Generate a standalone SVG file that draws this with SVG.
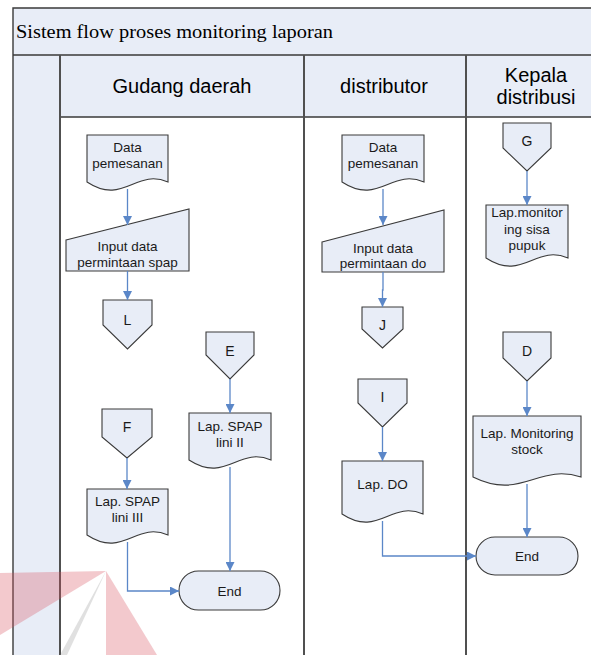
<svg xmlns="http://www.w3.org/2000/svg" width="591" height="655" viewBox="0 0 591 655">
  <style>
    .lane { fill: #e8edf7; }
    .frame { stroke: #3a3a3a; stroke-width: 1.4; fill: none; }
    .sep { stroke: #505050; stroke-width: 2; fill: none; }
    .shape { fill: #e8edf7; stroke: #3a3a3a; stroke-width: 1.1; }
    .title { font-family: "Liberation Serif", "Times New Roman", serif; font-size: 19px; fill: #000; }
    .head { font-family: "Liberation Sans", Arial, sans-serif; font-size: 20px; fill: #000; text-anchor: middle; }
    .lbl { font-family: "Liberation Sans", Arial, sans-serif; font-size: 13.5px; fill: #1a1a1a; text-anchor: middle; }
    .ltr { font-family: "Liberation Sans", Arial, sans-serif; font-size: 14px; fill: #1a1a1a; text-anchor: middle; }
    .flow { stroke: #5b87c8; stroke-width: 1.3; fill: none; marker-end: url(#arr); }
  </style>
  <defs>
    <marker id="arr" viewBox="0 0 10 10" refX="10" refY="5" markerWidth="9" markerHeight="9" markerUnits="userSpaceOnUse" orient="auto">
      <path d="M0,0 L10,5 L0,10 Z" fill="#5b87c8"/>
    </marker>
  </defs>

  <rect width="591" height="655" fill="#fff"/>

  <!-- pool: title bar, header row, left lane strip -->
  <g id="pool">
    <rect class="lane" x="13" y="8" width="578" height="47"/>
    <rect class="lane" x="13" y="55" width="578" height="62"/>
    <rect class="lane" x="13" y="117" width="47" height="538"/>
    <text class="title" x="16" y="38" textLength="317" lengthAdjust="spacingAndGlyphs">Sistem flow proses monitoring laporan</text>
    <path class="frame" d="M13,655 V8 H591 M13,55 H591 M60,117 H591"/>
    <path class="sep" d="M60,55 V655 M304,55 V655 M466,55 V655"/>
    <text class="head" x="182" y="93">Gudang daerah</text>
    <text class="head" x="384" y="93">distributor</text>
    <text class="head" x="536" y="82">Kepala</text>
    <text class="head" x="536" y="104">distribusi</text>
  </g>

  <!-- Gudang daerah -->
  <g id="gd-data">
    <path class="shape" d="M87,135 H168 V182 C135.6,168 123.5,206 87,182 Z"/>
    <text class="lbl" x="127.5" y="152">Data</text>
    <text class="lbl" x="127.5" y="168">pemesanan</text>
  </g>
  <g id="gd-input">
    <polygon class="shape" points="66,240 189,209 189,271 66,271"/>
    <text class="lbl" x="127.5" y="251">Input data</text>
    <text class="lbl" x="127.5" y="267">permintaan spap</text>
  </g>
  <g id="gd-L">
    <polygon class="shape" points="103,300 152,300 152,325 127.5,349 103,325"/>
    <text class="ltr" x="127.5" y="325">L</text>
  </g>
  <g id="gd-E">
    <polygon class="shape" points="206,332 254,332 254,355 230,379 206,355"/>
    <text class="ltr" x="230" y="356">E</text>
  </g>
  <g id="gd-spap2">
    <path class="shape" d="M189,413 H271 V460 C238.2,446 226,484 189,460 Z"/>
    <text class="lbl" x="230" y="431">Lap. SPAP</text>
    <text class="lbl" x="230" y="447">lini II</text>
  </g>
  <g id="gd-F">
    <polygon class="shape" points="102,409 152,409 152,437 127,458 102,437"/>
    <text class="ltr" x="127" y="432">F</text>
  </g>
  <g id="gd-spap3">
    <path class="shape" d="M87,489 H168 V535 C135.6,521 123.5,559 87,535 Z"/>
    <text class="lbl" x="127.5" y="506">Lap. SPAP</text>
    <text class="lbl" x="127.5" y="522">lini III</text>
  </g>
  <g id="gd-end">
    <rect class="shape" x="179" y="571" width="101" height="39" rx="19.5"/>
    <text class="lbl" x="229.5" y="595.5">End</text>
  </g>

  <!-- distributor -->
  <g id="ds-data">
    <path class="shape" d="M342,135 H424 V182 C391.2,168 378.9,206 342,182 Z"/>
    <text class="lbl" x="383" y="152">Data</text>
    <text class="lbl" x="383" y="168">pemesanan</text>
  </g>
  <g id="ds-input">
    <polygon class="shape" points="322,242 444,210 444,272 322,272"/>
    <text class="lbl" x="383" y="253">Input data</text>
    <text class="lbl" x="383" y="268">permintaan do</text>
  </g>
  <g id="ds-J">
    <polygon class="shape" points="362,307 403,307 403,329 382.5,348 362,329"/>
    <text class="ltr" x="382.5" y="330">J</text>
  </g>
  <g id="ds-I">
    <polygon class="shape" points="358,379 407,379 407,403 382.5,427 358,403"/>
    <text class="ltr" x="382.5" y="402">I</text>
  </g>
  <g id="ds-do">
    <path class="shape" d="M342,461 H423 V514 C390.6,500 378.5,538 342,514 Z"/>
    <text class="lbl" x="382.5" y="489">Lap. DO</text>
  </g>

  <!-- Kepala distribusi -->
  <g id="kd-G">
    <polygon class="shape" points="503,123 551,123 551,148 527,171 503,148"/>
    <text class="ltr" x="527" y="146">G</text>
  </g>
  <g id="kd-sisa">
    <path class="shape" d="M486,205 H568 V258 C535.2,244 522.9,282 486,258 Z"/>
    <text class="lbl" x="527" y="217">Lap.monitor</text>
    <text class="lbl" x="527" y="234">ing sisa</text>
    <text class="lbl" x="527" y="250">pupuk</text>
  </g>
  <g id="kd-D">
    <polygon class="shape" points="503,332 551,332 551,358 527,381 503,358"/>
    <text class="ltr" x="527" y="356">D</text>
  </g>
  <g id="kd-stock">
    <path class="shape" d="M473,416 H581 V477 C537.8,463 521.6,501 473,477 Z"/>
    <text class="lbl" x="527" y="438">Lap. Monitoring</text>
    <text class="lbl" x="527" y="454">stock</text>
  </g>
  <g id="kd-end">
    <rect class="shape" x="476" y="537" width="102" height="38" rx="19"/>
    <text class="lbl" x="527" y="561">End</text>
  </g>

  <!-- connectors -->
  <g id="connectors">
    <path class="flow" d="M127.5,189 V225"/>
    <path class="flow" d="M127.5,271 V300"/>
    <path class="flow" d="M230,379 V413"/>
    <path class="flow" d="M127,458 V489"/>
    <path class="flow" d="M230,467 V571"/>
    <path class="flow" d="M127.5,542 V591 H179"/>
    <path class="flow" d="M383,189 V225"/>
    <path class="flow" d="M383,272 V290 H382.5 V307"/>
    <path class="flow" d="M382.5,427 V461"/>
    <path class="flow" d="M382.5,521 V556 H476"/>
    <path class="flow" d="M527,171 V205"/>
    <path class="flow" d="M527,381 V416"/>
    <path class="flow" d="M527,484 V537"/>
  </g>

  <!-- faint emblem in the lower-left corner -->
  <g id="emblem" opacity="0.3">
    <polygon points="106,571 0,573 0,635" fill="#d8505e"/>
    <polygon points="106,571 106,655 157,655" fill="#d8505e"/>
    <polygon points="106,571 60,655 67,655" fill="#9a9a9a"/>
  </g>
</svg>
